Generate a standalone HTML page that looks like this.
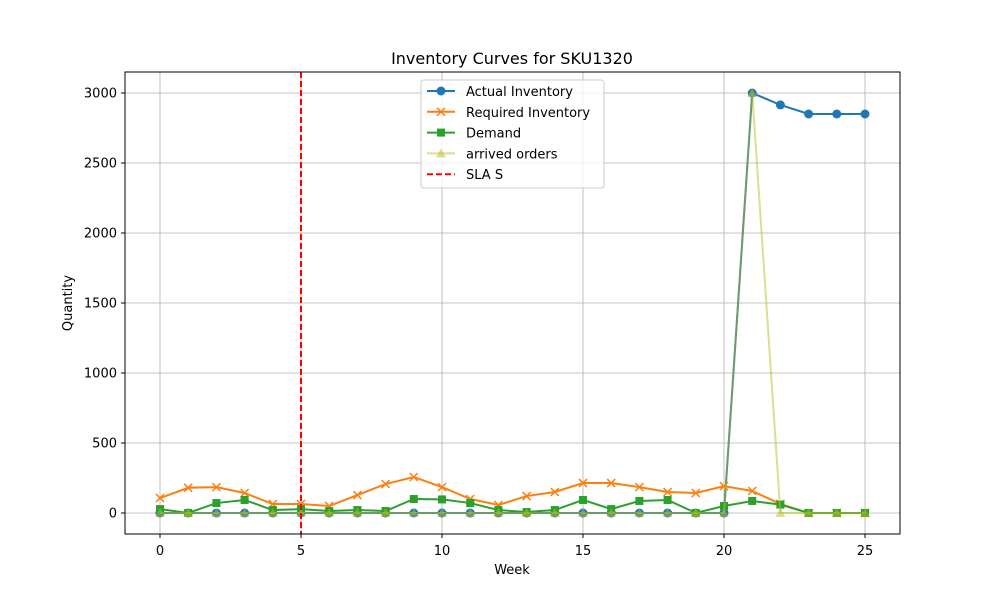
<!DOCTYPE html>
<html><head><meta charset="utf-8"><style>
body{margin:0;background:#fff;}
svg{font-family:"DejaVu Sans","Liberation Sans",sans-serif;}
</style></head><body>
<svg id="chart" width="1000" height="600" xmlns="http://www.w3.org/2000/svg">
<rect width="1000" height="600" fill="#fff"/>
<text x="512" y="64" text-anchor="middle" font-size="16">Inventory Curves for SKU1320</text>
<g id="grid"></g>
<g id="series"></g>
<rect x="125" y="72" width="775" height="462" fill="none" stroke="#000" stroke-width="1"/>
<g id="ticks" font-size="13"></g>
<text x="512" y="574" text-anchor="middle" font-size="13">Week</text>
<text transform="translate(72,303) rotate(-90)" text-anchor="middle" font-size="13">Quantity</text>
<g id="legend">
<rect x="421" y="80" width="183" height="108" rx="3" fill="#fff" fill-opacity="0.8" stroke="#ccc"/>
</g>
</svg>
<script>
const weeks=[0,1,2,3,4,5,6,7,8,9,10,11,12,13,14,15,16,17,18,19,20,21,22,23,24,25];
const actual=[0,0,0,0,0,0,0,0,0,0,0,0,0,0,0,0,0,0,0,0,0,3000,2915,2850,2850,2850];
const required=[107,180,185,143,64,64,50,128,207,257,185,100,57,121,150,214,214,185,150,143,192,157,65,0,0,0];
const demand=[28,0,71,93,21,28,14,21,14,100,97,71,21,7,21,93,28,86,93,0,50,86,60,0,0,0];
const arrived=[0,0,0,0,0,0,0,0,0,0,0,0,0,0,0,0,0,0,0,0,0,3000,0,0,0,0];
const slaWeek=5;
const xTicks=[0,5,10,15,20,25];
const yTicks=[0,500,1000,1500,2000,2500,3000];
const NS="http://www.w3.org/2000/svg";
const BOTTOM=534;
const X=v=>160+v*(705/25);
const Y=v=>513-v*(420/3000);
function mk(tag,attrs,parent){const e=document.createElementNS(NS,tag);for(const k in attrs)e.setAttribute(k,attrs[k]);parent.appendChild(e);return e;}
const grid=document.getElementById('grid'),ticks=document.getElementById('ticks'),series=document.getElementById('series'),legend=document.getElementById('legend');
xTicks.forEach(t=>{
 const g=mk('line',{x1:X(t),x2:X(t),y1:72,y2:BOTTOM,stroke:'#b0b0b0','stroke-width':0.8},grid);
 
 
 mk('line',{x1:X(t),x2:X(t),y1:BOTTOM,y2:BOTTOM+4,stroke:'#000'},ticks);
 const l=mk('text',{x:X(t),y:BOTTOM+21,'text-anchor':'middle'},ticks);l.textContent=t;
 
 
});
yTicks.forEach(t=>{
 const g=mk('line',{x1:125,x2:900,y1:Y(t),y2:Y(t),stroke:'#b0b0b0','stroke-width':0.8},grid);
 
 
 mk('line',{x1:121,x2:125,y1:Y(t),y2:Y(t),stroke:'#000'},ticks);
 const l=mk('text',{x:117,y:Y(t)+4.5,'text-anchor':'end'},ticks);l.textContent=t;
 
 
});
function marker(type,x,y,color,parent,op){
 let e;
 if(type==='o')e=mk('circle',{cx:x,cy:y,r:4.5,fill:color,'fill-opacity':op},parent);
 else if(type==='s')e=mk('rect',{x:x-4,y:y-4,width:8,height:8,fill:color,'fill-opacity':op},parent);
 else if(type==='^')e=mk('polygon',{points:`${x},${y-5} ${x-5},${y+4} ${x+5},${y+4}`,fill:color,'fill-opacity':op},parent);
 else if(type==='x')e=mk('path',{d:`M${x-4},${y-4}L${x+4},${y+4}M${x-4},${y+4}L${x+4},${y-4}`,stroke:color,'stroke-width':1.5},parent);
 return e;
}
function draw(vals,color,m,name,op){
 const g=mk('g',{},series);
 
 
 const p=mk('polyline',{points:vals.map((v,i)=>X(weeks[i])+','+Y(v)).join(' '),fill:'none',stroke:color,'stroke-width':2,'stroke-opacity':op},g);
 
 
 vals.forEach((v,i)=>{const e=marker(m,X(weeks[i]),Y(v),color,g,op);
  
  });
}
draw(actual,'#1f77b4','o','actual-inventory',1);
draw(required,'#ff7f0e','x','required-inventory',1);
draw(demand,'#2ca02c','s','demand',1);
draw(arrived,'#bcbd22','^','arrived-orders',0.5);
const sla=mk('line',{x1:X(slaWeek),x2:X(slaWeek),y1:72,y2:BOTTOM,stroke:'#ff0000','stroke-width':2,'stroke-dasharray':'6,3'},series);


const items=[['Actual Inventory','#1f77b4','o',1,false],['Required Inventory','#ff7f0e','x',1,false],['Demand','#2ca02c','s',1,false],['arrived orders','#bcbd22','^',0.5,false],['SLA S','#ff0000',null,1,true]];
items.forEach((it,i)=>{
 const y=91+i*20.8;
 const g=mk('g',{},legend);
 
 
 mk('line',{x1:427,x2:455,y1:y,y2:y,stroke:it[1],'stroke-width':2,'stroke-opacity':it[3],'stroke-dasharray':it[4]?'6,3':'none'},g);
 if(it[2])marker(it[2],441,y,it[1],g,it[3]);
 const t=mk('text',{x:466,y:y+5,'font-size':13},g);t.textContent=it[0];
});
</script>
</body></html>
